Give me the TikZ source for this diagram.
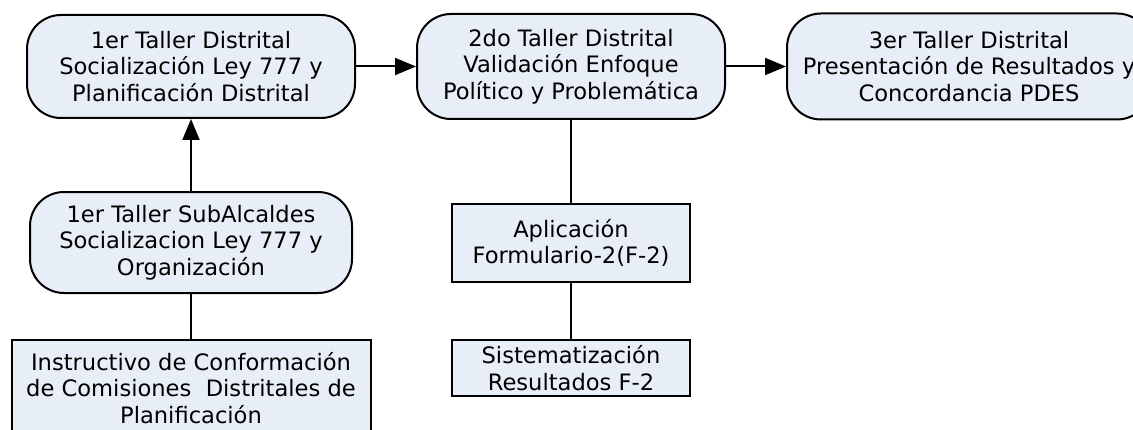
\documentclass[tikz,border=0pt]{standalone}
\usepackage{fontspec}
\setmainfont{DejaVu Sans}
\usetikzlibrary{arrows.meta}
\definecolor{relleno}{HTML}{E8EEF7}
\tikzset{
    taller/.style={draw, line width=1pt, fill=relleno, rounded corners=17pt,
        align=center, inner sep=0pt, font=\fontsize{11.3}{13.25}\selectfont},
    tarea/.style={draw, line width=1pt, fill=relleno,
        align=center, inner sep=0pt, font=\fontsize{11.3}{13.25}\selectfont},
    flecha/.style={line width=1pt, -{Triangle[length=10.5pt,width=8.5pt]}},
    enlace/.style={line width=1pt}
}
\begin{document}
\begin{tikzpicture}[x=0.5pt,y=0.5pt]
    \useasboundingbox (0,0) rectangle (1133,429);
    % talleres distritales
    \node[taller, minimum width=164pt, minimum height=51.5pt] (t1) at (191,362.5)
        {1er Taller Distrital\\Socialización Ley 777 y\\Planificación Distrital};
    \node[taller, minimum width=154pt, minimum height=52.5pt] (t2) at (571,362.5)
        {2do Taller Distrital\\Validación Enfoque\\Político y Problemática};
    \node[taller, minimum width=182pt, minimum height=53pt] (t3) at (969,362.5)
        {3er Taller Distrital\\Presentación de Resultados y\\Concordancia PDES};
    % columna izquierda
    \node[taller, minimum width=161pt, minimum height=50.5pt] (sub) at (191,186.5)
        {1er Taller SubAlcaldes\\Socializacion Ley 777 y\\Organización};
    \node[tarea, minimum width=179.5pt, minimum height=48pt] (inst) at (191,41)
        {Instructivo de Conformación\\de Comisiones\ \ Distritales de\\Planificación};
    % columna central
    \node[tarea, minimum width=119pt, minimum height=39pt] (apl) at (571,186)
        {Aplicación\\Formulario-2(F-2)};
    \node[tarea, minimum width=119pt, minimum height=28pt] (sis) at (571,61)
        {Sistematización\\Resultados F-2};
    \draw[flecha] (t1) -- (t2);
    \draw[flecha] (t2) -- (t3);
    \draw[flecha] (sub) -- (t1);
    \draw[enlace] (sub) -- (inst);
    \draw[enlace] (t2) -- (apl);
    \draw[enlace] (apl) -- (sis);
\end{tikzpicture}
\end{document}
